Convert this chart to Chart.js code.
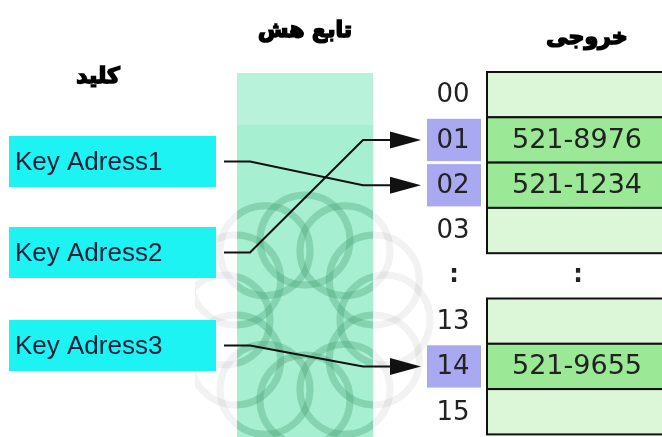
<!DOCTYPE html>
<html>
<head>
<meta charset="utf-8">
<script src="https://cdn.jsdelivr.net/npm/chart.js@4/dist/chart.umd.min.js"></script>
<style>
  html, body { margin: 0; padding: 0; background: #fff; }
  #diagrama { display: block; }
</style>
</head>
<body>
<canvas id="diagrama" width="662" height="437"></canvas>
<script>
// ---- Datos del diagrama ----
const keyLabels = ["Key Adress1", "Key Adress2", "Key Adress3"];
const slotLabels = ["00", "01", "02", "03", "13", "14", "15"];
const slotValues = ["", "521-8976", "521-1234", "", "", "521-9655", ""];
const keyTargets = ["02", "01", "14"];
const headerKey = "کلید";
const headerHash = "تابع هش";
const headerOut = "خروجی";

// ---- Layout (unidades de escala = pixeles) ----
const slotRows = [0, 1, 2, 3, 5, 6, 7];   // fila 4 = puntos suspensivos
const ROW_TOP = 72, ROW_H = 45.3;
const KEY_TOP = [136, 227, 320], KEY_H = 51, KEY_X0 = 9, KEY_X1 = 216;
const IDX_X0 = 427, IDX_X1 = 481, CELL_X0 = 487, CELL_X1 = 680;
const HASH_X0 = 237, HASH_X1 = 373;

const rowTop = r => ROW_TOP + r * ROW_H;
const slotCenter = s => rowTop(slotRows[slotLabels.indexOf(s)]) + ROW_H / 2;

// caminos de las flechas, construidos desde las cajas
const arrowSets = keyLabels.map((k, i) => {
  const cy = KEY_TOP[i] + KEY_H / 2;
  const ty = slotCenter(keyTargets[i]);
  return {
    label: k,
    data: [
      { x: KEY_X1 + 8, y: cy },
      { x: 250, y: cy },
      { x: 363, y: ty },
      { x: 394, y: ty }
    ],
    showLine: true,
    borderColor: "#111",
    borderWidth: 2,
    pointRadius: 0,
    tension: 0
  };
});

function roseta(ctx, px, py, color) {
  ctx.strokeStyle = color;
  ctx.lineWidth = 7;
  for (let a = 0; a < 12; a++) {
    const ang = a * Math.PI / 6;
    ctx.beginPath();
    ctx.arc(px(305 + 80 * Math.cos(ang)), py(320 + 80 * Math.sin(ang)), 45, 0, Math.PI * 2);
    ctx.stroke();
  }
}

const diagramPlugin = {
  id: "diagram",
  beforeDatasetsDraw(chart) {
    const { ctx, scales: { x, y } } = chart;
    const px = v => x.getPixelForValue(v);
    const py = v => y.getPixelForValue(v);
    const rect = (x0, y0, x1, y1, fill) => {
      ctx.fillStyle = fill;
      ctx.fillRect(px(x0), py(y0), px(x1) - px(x0), py(y1) - py(y0));
    };
    ctx.save();

    // columna funcion hash
    rect(HASH_X0, 73, HASH_X1, 437, "#a6efd0");
    rect(HASH_X0, 73, HASH_X1, 125, "#b9f2da");

    // marca de agua tenue
    ctx.save();
    ctx.beginPath();
    ctx.rect(px(195), py(180), px(485) - px(195), py(437) - py(180));
    ctx.clip();
    roseta(ctx, px, py, "rgba(120,125,122,0.1)");
    ctx.beginPath();
    ctx.rect(px(HASH_X0), py(180), px(HASH_X1) - px(HASH_X0), py(437) - py(180));
    ctx.clip();
    roseta(ctx, px, py, "rgba(60,170,120,0.28)");
    ctx.restore();

    // encabezados
    ctx.fillStyle = "#000";
    ctx.strokeStyle = "#000";
    ctx.lineWidth = 1.6;
    ctx.textAlign = "center";
    ctx.textBaseline = "middle";
    ctx.font = "bold 22px 'DejaVu Sans'";
    [[headerHash, 305, 31], [headerKey, 98, 77], [headerOut, 587, 38]].forEach(([t, hx, hy]) => {
      ctx.fillText(t, px(hx), py(hy));
      ctx.strokeText(t, px(hx), py(hy));
    });

    // cajas de claves
    keyLabels.forEach((k, i) => {
      rect(KEY_X0, KEY_TOP[i], KEY_X1, KEY_TOP[i] + KEY_H, "#1ef3f3");
      ctx.fillStyle = "#1b1f3a";
      ctx.textAlign = "left";
      ctx.font = "26px 'Liberation Sans'";
      ctx.fillText(k, px(KEY_X0 + 6), py(KEY_TOP[i] + KEY_H / 2 + 1));
    });

    // tabla de salida
    slotLabels.forEach((s, i) => {
      const t = rowTop(slotRows[i]), b = t + ROW_H;
      const used = slotValues[i] !== "";
      if (used) rect(IDX_X0, t + 1.5, IDX_X1, b - 1.5, "#a9a9f2");
      rect(CELL_X0, t, CELL_X1, b, used ? "#9be896" : "#dcf6d8");
      ctx.strokeStyle = "#111";
      ctx.lineWidth = 2;
      ctx.strokeRect(px(CELL_X0), py(t), px(CELL_X1) - px(CELL_X0), py(b) - py(t));
      ctx.fillStyle = "#222";
      ctx.textAlign = "center";
      ctx.font = "26px 'DejaVu Sans'";
      ctx.fillText(s, px((IDX_X0 + IDX_X1) / 2 - 1), py(t + ROW_H / 2 + 1));
      if (used) {
        ctx.font = "27px 'DejaVu Sans'";
        ctx.fillText(slotValues[i], px(577), py(t + ROW_H / 2 + 1));
      }
    });

    // puntos suspensivos
    const dy = rowTop(4) + ROW_H / 2;
    ctx.fillStyle = "#222";
    ctx.font = "bold 24px 'DejaVu Sans'";
    ctx.fillText(":", px(454), py(dy));
    ctx.fillText(":", px(578), py(dy));
    ctx.restore();
  },
  afterDatasetsDraw(chart) {
    const { ctx, scales: { x, y } } = chart;
    ctx.save();
    ctx.fillStyle = "#111";
    keyTargets.forEach(t => {
      const ty = y.getPixelForValue(slotCenter(t));
      ctx.beginPath();
      ctx.moveTo(x.getPixelForValue(421), ty);
      ctx.lineTo(x.getPixelForValue(390), ty - 8.5);
      ctx.lineTo(x.getPixelForValue(390), ty + 8.5);
      ctx.closePath();
      ctx.fill();
    });
    ctx.restore();
  }
};

new Chart(document.getElementById("diagrama"), {
  type: "scatter",
  data: { datasets: arrowSets },
  options: {
    responsive: false,
    animation: false,
    layout: { padding: 0 },
    plugins: { legend: { display: false }, tooltip: { enabled: false } },
    scales: {
      x: { type: "linear", min: 0, max: 662, display: false },
      y: { type: "linear", min: 0, max: 437, reverse: true, display: false }
    }
  },
  plugins: [diagramPlugin]
});
</script>
</body>
</html>
